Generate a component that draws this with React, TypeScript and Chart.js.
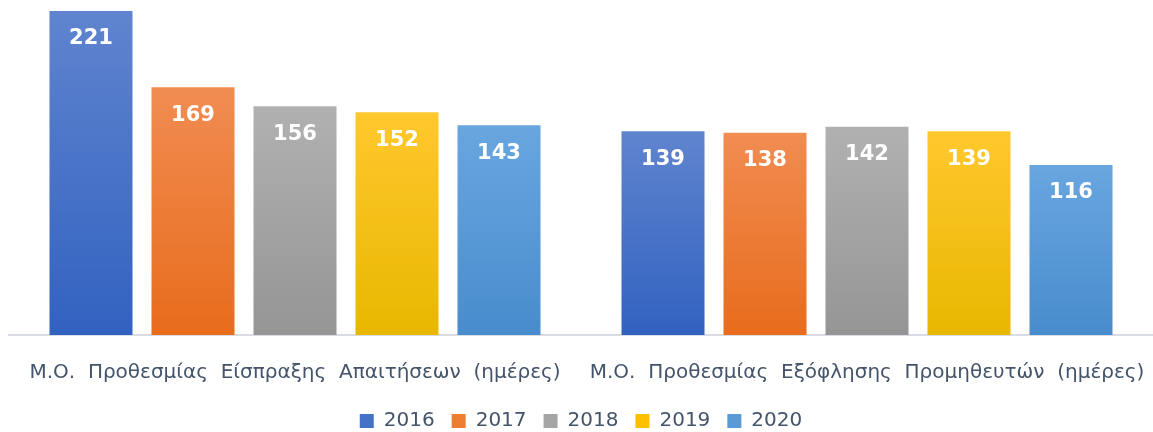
import React, { useEffect, useRef } from "react";
import { Chart, registerables } from "chart.js";

Chart.register(...registerables);

const categories = [
  "Μ.Ο.  Προθεσμίας  Είσπραξης  Απαιτήσεων  (ημέρες)",
  "Μ.Ο.  Προθεσμίας  Εξόφλησης  Προμηθευτών  (ημέρες)",
];
const years = ["2016", "2017", "2018", "2019", "2020"];
const values2016 = [221, 139];
const values2017 = [169, 138];
const values2018 = [156, 142];
const values2019 = [152, 139];
const values2020 = [143, 116];

const seriesValues = [values2016, values2017, values2018, values2019, values2020];
const topColors = ["#6084cf", "#f18c52", "#b1b1b1", "#ffc82e", "#69a6e0"];
const bottomColors = ["#3162c0", "#e86c1c", "#959595", "#e8b700", "#488ccd"];
const legendColors = ["#4472c4", "#ed7d31", "#a5a5a5", "#ffc000", "#5b9bd5"];

const FONT = "DejaVu Sans";

const labelPlugin = {
  id: "barLabels",
  afterDatasetsDraw(chart: any) {
    const ctx = chart.ctx;
    ctx.save();
    ctx.fillStyle = "#ffffff";
    ctx.font = `bold 21px ${FONT}`;
    ctx.textAlign = "center";
    ctx.textBaseline = "middle";
    chart.data.datasets.forEach((ds: any, di: number) => {
      const meta = chart.getDatasetMeta(di);
      meta.data.forEach((bar: any, i: number) => {
        ctx.fillText(String(ds.data[i]), bar.x, bar.y + 28);
      });
    });
    ctx.restore();
  },
};

export default function App() {
  const ref = useRef<HTMLCanvasElement>(null);
  useEffect(() => {
    if (!ref.current) return;
    const makeBg = (si: number) => (context: any) => {
      const chart = context.chart;
      const { chartArea } = chart;
      if (!chartArea || context.dataIndex === undefined) return legendColors[si];
      const v = context.raw as number;
      const yScale = chart.scales.y;
      const top = yScale.getPixelForValue(v);
      const bottom = yScale.getPixelForValue(0);
      const g = chart.ctx.createLinearGradient(0, top, 0, bottom);
      g.addColorStop(0, topColors[si]);
      g.addColorStop(1, bottomColors[si]);
      return g;
    };
    const chart = new Chart(ref.current, {
      type: "bar",
      data: {
        labels: categories,
        datasets: years.map((y, si) => ({
          label: y,
          data: seriesValues[si],
          backgroundColor: makeBg(si),
          borderWidth: 0,
          categoryPercentage: 0.8916,
          barPercentage: 0.814,
        })),
      },
      options: {
        animation: false,
        responsive: false,
        maintainAspectRatio: false,
        layout: { padding: { left: 9, right: 0, top: 0, bottom: 0 } },
        scales: {
          x: {
            grid: { display: false, drawTicks: false },
            border: { display: true, color: "#d9dde3", width: 2 },
            ticks: {
              color: "#44546a",
              font: { family: FONT, size: 20 },
              padding: 26,
              maxRotation: 0,
              autoSkip: false,
            },
            afterFit: (scale: any) => {
              scale.paddingLeft = 0;
              scale.paddingRight = 0;
              scale.height = 59;
            },
          },
          y: {
            display: false,
            min: 0,
            max: 228.5,
          },
        },
        plugins: {
          legend: {
            position: "bottom",
            labels: {
              boxWidth: 14,
              boxHeight: 14,
              padding: 17,
              color: "#44546a",
              font: { family: FONT, size: 20 },
              generateLabels: () =>
                years.map((y, i) => ({
                  text: y,
                  fillStyle: legendColors[i],
                  strokeStyle: legendColors[i],
                  lineWidth: 0,
                  hidden: false,
                  datasetIndex: i,
                  fontColor: "#44546a",
                })),
            },
          },
          tooltip: { enabled: false },
        },
      },
      plugins: [labelPlugin],
    });
    return () => chart.destroy();
  }, []);
  return (
    <div style={{ position: "fixed", left: 0, top: 0, width: 1153, height: 432, overflow: "hidden", background: "#fff" }}>
      <canvas ref={ref} width={1153} height={441} style={{ display: "block" }} />
    </div>
  );
}
